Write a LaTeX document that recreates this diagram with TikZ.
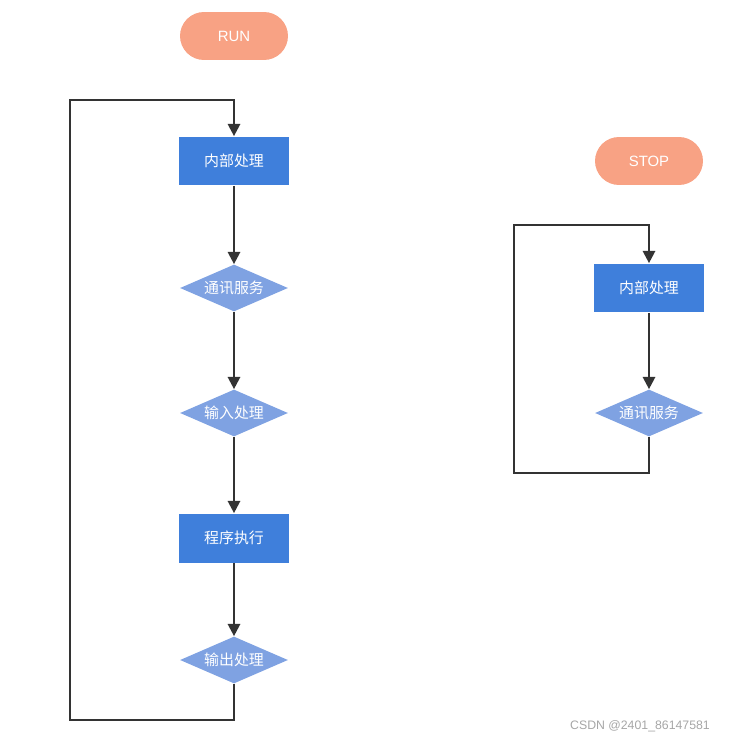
\documentclass[tikz,border=0pt]{standalone}
\usepackage{fontspec}
\setmainfont{Liberation Sans}
\newfontfamily\cjk{Noto Sans CJK SC}
\usetikzlibrary{arrows.meta,shapes.geometric}
\definecolor{pill}{HTML}{F8A284}
\definecolor{boxblue}{HTML}{3F7FDB}
\definecolor{diablue}{HTML}{7FA2E2}
\definecolor{wire}{HTML}{333333}

\begin{document}
\begin{tikzpicture}[x=0.02cm, y=-0.02cm,
    every node/.style={font=\cjk\fontsize{8.5}{10}\selectfont, text=white},
    term/.style={rectangle, fill=pill, minimum width=2.16cm, minimum height=0.96cm, rounded corners=0.48cm},
    proc/.style={rectangle, fill=boxblue, minimum width=2.22cm, minimum height=0.98cm},
    test/.style={diamond, aspect=2.3, fill=diablue, minimum width=2.16cm, minimum height=0.94cm, inner sep=0pt},
    flow/.style={draw=wire, line width=1.3pt, -{Triangle[length=7pt, width=7pt]}}]

    \useasboundingbox (0,0) rectangle (729,740);

    % RUN side
    \node[term] (run) at (234,36) {\rmfamily RUN};
    \node[proc] (inner1) at (234,161) {内部处理};
    \node[test] (comm1) at (234,288) {通讯服务};
    \node[test] (input) at (234,413) {输入处理};
    \node[proc] (exec) at (234,538) {程序执行};
    \node[test] (output) at (234,660) {输出处理};

    \draw[flow] (inner1) -- (comm1);
    \draw[flow] (comm1) -- (input);
    \draw[flow] (input) -- (exec);
    \draw[flow] (exec) -- (output);

    % RUN loop back
    \coordinate (runbl) at (70,720);
    \coordinate (runtl) at (70,100);
    \draw[flow] (output.south) |- (runbl) -- (runtl) -| (inner1.north);

    % STOP side
    \node[term] (stop) at (649,161) {\rmfamily STOP};
    \node[proc] (inner2) at (649,288) {内部处理};
    \node[test] (comm2) at (649,413) {通讯服务};

    \draw[flow] (inner2) -- (comm2);

    % STOP loop back
    \coordinate (stopbl) at (514,473);
    \coordinate (stoptl) at (514,225);
    \draw[flow] (comm2.south) |- (stopbl) -- (stoptl) -| (inner2.north);

    % watermark
    \node[text=black!35, font=\fontsize{7}{8}\selectfont] (mark) at (640,726) {CSDN @2401\_86147581};

\end{tikzpicture}
\end{document}
